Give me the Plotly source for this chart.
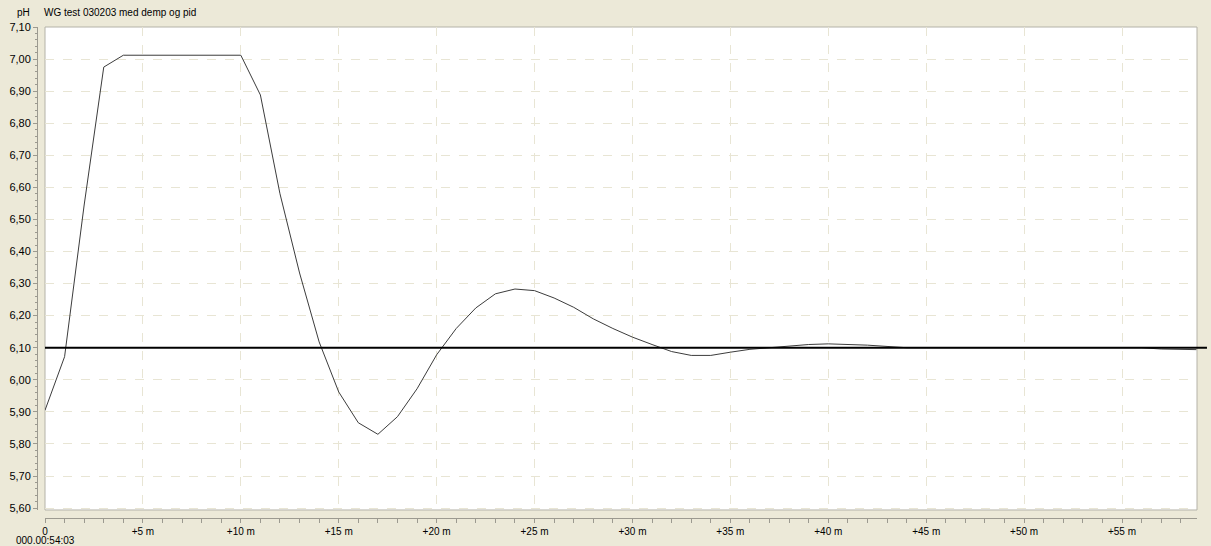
import plotly.graph_objects as go

# minutter fra start (000.00:54:03) og målt pH
minutter = [0, 1, 2, 3, 4, 5, 6, 7, 8, 9, 10, 11, 12, 13, 14, 15, 16, 17, 18, 19,
            20, 21, 22, 23, 24, 25, 26, 27, 28, 29, 30, 31, 32, 33, 34, 35, 36, 37, 38, 39,
            40, 41, 42, 43, 44, 45, 46, 47, 48, 49, 50, 51, 52, 53, 54, 55, 56, 57, 58, 58.8]
ph = [5.905, 6.072, 6.545, 6.975, 7.012, 7.012, 7.012, 7.012, 7.012, 7.012, 7.012, 6.888,
      6.580, 6.333, 6.118, 5.962, 5.866, 5.830, 5.885, 5.972, 6.078, 6.160, 6.224, 6.268,
      6.283, 6.278, 6.255, 6.226, 6.190, 6.160, 6.133, 6.110, 6.088, 6.076, 6.076, 6.086,
      6.095, 6.100, 6.105, 6.110, 6.112, 6.111, 6.108, 6.104, 6.100, 6.100, 6.100, 6.100,
      6.100, 6.100, 6.100, 6.100, 6.100, 6.100, 6.100, 6.100, 6.100, 6.096, 6.094, 6.094]
settpunkt = 6.10
starttid = "000.00:54:03"

x_tickvals = [0, 5, 10, 15, 20, 25, 30, 35, 40, 45, 50, 55]
x_ticktext = ["0", "+5 m", "+10 m", "+15 m", "+20 m", "+25 m", "+30 m",
              "+35 m", "+40 m", "+45 m", "+50 m", "+55 m"]

BEIGE = "#ECE9D8"
GRID = "#E8E5D4"
AXIS = "#9C9A90"
FONT = "Liberation Sans"

fig = go.Figure()

fig.add_trace(go.Scatter(x=minutter, y=ph, mode="lines",
                         line=dict(color="#3C3C3C", width=1), showlegend=False))

# settpunkt-linje
fig.add_shape(type="line", xref="paper", yref="y", x0=0.0069, x1=1.0086,
              y0=settpunkt, y1=settpunkt, line=dict(color="black", width=2))

# ramme rundt plottet
fig.add_shape(type="rect", xref="x domain", yref="y domain", x0=0, x1=1, y0=0, y1=1,
              line=dict(color="#B4B2A8", width=1), layer="below")

fig.add_annotation(text="pH", xref="paper", yref="paper", x=-0.0043, y=1.0305,
                   xanchor="right", yanchor="middle", showarrow=False,
                   font=dict(family=FONT, size=10, color="black"))
fig.add_annotation(text="WG test 030203 med demp og pid", xref="paper", yref="paper",
                   x=0.0043, y=1.0305, xanchor="left", yanchor="middle", showarrow=False,
                   font=dict(family=FONT, size=10, color="black"))
# starttid under 0-merket
fig.add_annotation(text=starttid, xref="x", yref="paper", x=0, y=-0.0468,
                   xanchor="center", yanchor="middle", showarrow=False,
                   font=dict(family=FONT, size=10, color="black"))

fig.update_layout(
    width=1211, height=546,
    margin=dict(l=37, r=14, t=27, b=28),
    paper_bgcolor=BEIGE,
    plot_bgcolor="white",
    separators=",.",
    font=dict(family=FONT, size=10, color="black"),
    xaxis=dict(
        domain=[0.0069, 1], anchor="free", position=0, automargin=False,
        range=[0, 58.83],
        tickvals=x_tickvals, ticktext=x_ticktext,
        ticks="outside", ticklen=4, tickcolor=AXIS,
        minor=dict(dtick=1, tick0=0, ticks="outside", ticklen=4, tickcolor=AXIS, showgrid=False),
        showline=True, linecolor=AXIS, linewidth=1,
        showgrid=True, gridcolor=GRID, griddash="dash", gridwidth=1,
        zeroline=False, tickfont=dict(size=10),
    ),
    yaxis=dict(
        domain=[0.0163, 1], anchor="free", position=0, automargin=False,
        range=[5.594, 7.10],
        tick0=5.6, dtick=0.1, tickformat=".2f",
        ticks="outside", ticklen=4, tickcolor=AXIS,
        minor=dict(dtick=0.02, tick0=5.6, ticks="outside", ticklen=2, tickcolor=AXIS, showgrid=False),
        showline=True, linecolor=AXIS, linewidth=1,
        showgrid=True, gridcolor=GRID, griddash="dash", gridwidth=1,
        zeroline=False, tickfont=dict(size=11),
    ),
)

# fjern nettleserens standardmarg rundt figuren
fig.write_html("out.html", config={"displayModeBar": False},
               post_script="document.body.style.margin='0';"
                           "document.body.style.background='#ECE9D8';")
